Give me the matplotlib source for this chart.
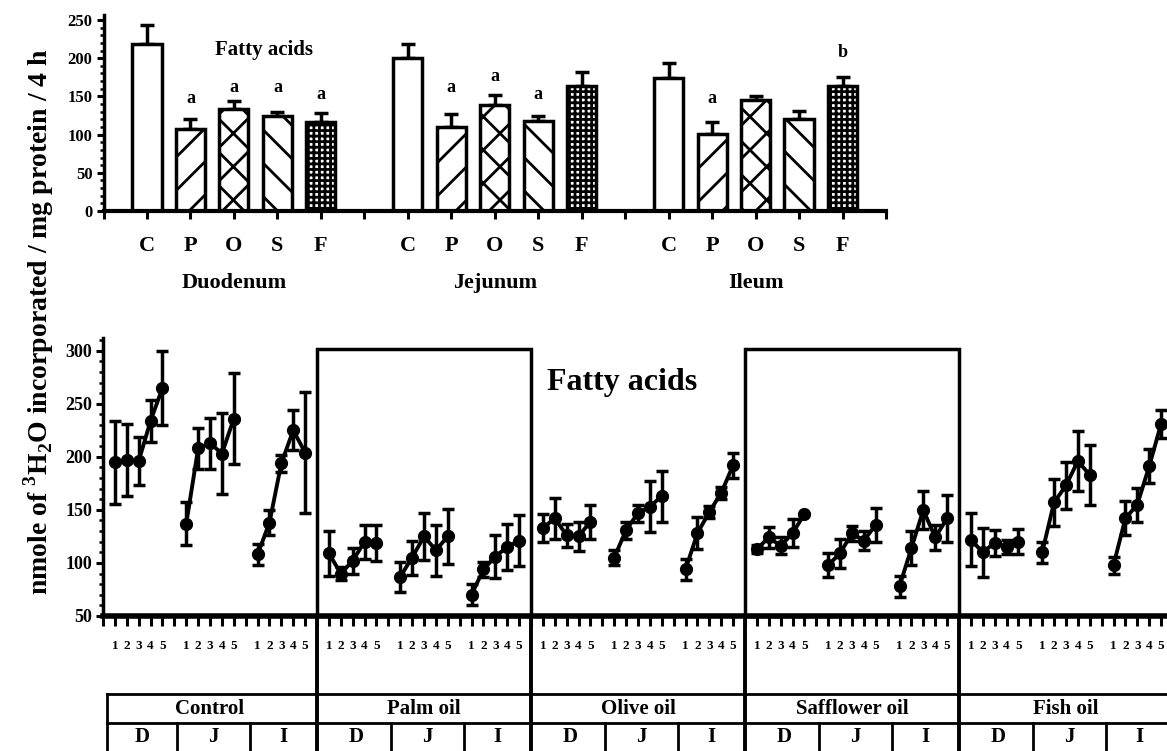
import numpy as np
import matplotlib
matplotlib.use("Agg")
import matplotlib.pyplot as plt
from matplotlib.patches import Rectangle
from matplotlib.ticker import MultipleLocator
import matplotlib.transforms as mtransforms

plt.rcParams['font.family'] = 'Liberation Serif'
plt.rcParams['font.weight'] = 'bold'
plt.rcParams['mathtext.fontset'] = 'custom'
plt.rcParams['mathtext.rm'] = 'Liberation Serif:bold'
plt.rcParams['mathtext.bf'] = 'Liberation Serif:bold'
plt.rcParams['hatch.linewidth'] = 2.0

# ------------------------------------------------------------
# datos: panel superior (barras por segmento intestinal)
# ------------------------------------------------------------
diet_codes = ['C', 'P', 'O', 'S', 'F']
segments_top = ['Duodenum', 'Jejunum', 'Ileum']
duo_mean = [218, 107, 134, 125, 117]
duo_err = [26, 13, 10, 5, 11]
jej_mean = [200, 110, 139, 118, 163]
jej_err = [19, 17, 13, 7, 19]
ile_mean = [174, 101, 145, 121, 163]
ile_err = [20, 15, 5, 10, 13]
duo_sig = ['', 'a', 'a', 'a', 'a']
jej_sig = ['', 'a', 'a', 'a', '']
ile_sig = ['', 'a', '', '', 'b']
# altura de las letras de significancia
duo_sig_y = [0, 147, 162, 162, 152]
jej_sig_y = [0, 161, 176, 153, 0]
ile_sig_y = [0, 147, 0, 0, 207]

# ------------------------------------------------------------
# datos: panel inferior (dias 1-5 por dieta y segmento D, J, I)
# ------------------------------------------------------------
diets = ['Control', 'Palm oil', 'Olive oil', 'Safflower oil', 'Fish oil']
seg_codes = ['D', 'J', 'I']
days = [1, 2, 3, 4, 5]
control_mean = [[195, 197, 196, 234, 265], [137, 208, 213, 203, 236], [108, 138, 194, 225, 204]]
control_sem = [[39, 34, 23, 20, 35], [20, 19, 24, 38, 43], [10, 12, 8, 19, 57]]
palm_mean = [[109, 90, 102, 120, 119], [87, 105, 125, 112, 125], [70, 94, 106, 115, 121]]
palm_sem = [[21, 6, 12, 16, 17], [14, 16, 22, 24, 26], [10, 7, 20, 22, 24]]
olive_mean = [[133, 142, 126, 125, 139], [105, 131, 147, 153, 163], [94, 128, 148, 166, 192]]
olive_sem = [[13, 19, 11, 14, 16], [7, 8, 8, 24, 24], [10, 15, 6, 6, 12]]
safflower_mean = [[113, 124, 116, 128, 146], [98, 109, 128, 121, 136], [78, 114, 150, 124, 142]]
safflower_sem = [[4, 10, 8, 13, 0], [11, 14, 7, 9, 16], [10, 16, 18, 12, 22]]
fish_mean = [[122, 110, 119, 115, 120], [110, 157, 173, 196, 183], [98, 142, 155, 191, 231]]
fish_sem = [[25, 23, 12, 7, 12], [10, 22, 22, 28, 28], [8, 16, 16, 16, 13]]

all_mean = [control_mean, palm_mean, olive_mean, safflower_mean, fish_mean]
all_sem = [control_sem, palm_sem, olive_sem, safflower_sem, fish_sem]

fig = plt.figure(figsize=(11.67, 7.51), dpi=100)

# ============================================================
# panel superior
# ============================================================
ax1 = fig.add_axes([0.0887, 0.7190, 0.6705, 0.2605])
hatches = [None, '/', 'x', '\\', '+++']
tops = [(duo_mean, duo_err, duo_sig, duo_sig_y),
        (jej_mean, jej_err, jej_sig, jej_sig_y),
        (ile_mean, ile_err, ile_sig, ile_sig_y)]
bw = 0.67
for g, (mean, err, sig, sig_y) in enumerate(tops):
    xs = np.arange(len(mean)) + 1 + 6 * g
    ax1.bar(xs, mean, bw, facecolor='white', edgecolor='black',
            hatch=hatches, linewidth=2.5, zorder=2)
    ax1.errorbar(xs, mean, yerr=[np.zeros(len(err)), err], fmt='none',
                 ecolor='black', elinewidth=2.5, capsize=5, capthick=2.5, zorder=1)
    for k in range(len(mean)):
        if sig[k]:
            ax1.text(xs[k], sig_y[k], sig[k], ha='center', va='center', fontsize=13)
    ax1.text(3 + 6 * g, -0.368, segments_top[g],
             transform=mtransforms.blended_transform_factory(ax1.transData, ax1.transAxes),
             ha='center', va='center', fontsize=16)

ax1.text(3.69, 211, 'Fatty acids', ha='center', va='center', fontsize=15)
ax1.set_xlim(0, 18)
ax1.set_ylim(0, 256)
ticks_top = np.arange(0, 19)
labels_top = ['' if (t % 6 == 0) else diet_codes[t % 6 - 1] for t in ticks_top]
ax1.set_xticks(ticks_top)
ax1.set_xticklabels(labels_top, fontsize=16)
ax1.set_yticks(np.arange(0, 251, 50))
ax1.yaxis.set_minor_locator(MultipleLocator(10))
ax1.tick_params(axis='x', direction='out', length=6, width=2.2, pad=12)
ax1.tick_params(axis='y', which='major', direction='out', length=5, width=2.2, labelsize=12, pad=3)
ax1.tick_params(axis='y', which='minor', direction='out', length=3, width=1.8)
ax1.spines['top'].set_visible(False)
ax1.spines['right'].set_visible(False)
ax1.spines['left'].set_linewidth(2.5)
ax1.spines['bottom'].set_linewidth(3)

# ============================================================
# panel inferior
# ============================================================
ax2 = fig.add_axes([0.0883, 0.1798, 0.9117, 0.3701])
for g in range(len(diets)):
    for s in range(len(seg_codes)):
        xs = 18 * g + 6 * s + np.array(days)
        ax2.errorbar(xs, all_mean[g][s], yerr=all_sem[g][s], fmt='-o', color='black',
                     lw=2.8, ms=8.5, elinewidth=2.5, capsize=4, capthick=2.5, zorder=3)

ax2.set_xlim(0, 89.5)
ax2.set_ylim(50, 312)
ticks_bot = np.arange(0, 90)
ax2.set_xticks(ticks_bot)
ax2.set_xticklabels(['' if t % 6 == 0 else str(t % 6) for t in ticks_bot], fontsize=9.5)
ax2.set_yticks(np.arange(50, 301, 50))
ax2.yaxis.set_minor_locator(MultipleLocator(10))
ax2.tick_params(axis='x', direction='out', length=7, width=2.2, pad=10)
ax2.tick_params(axis='y', which='major', direction='out', length=5, width=2.2, labelsize=13, pad=3)
ax2.tick_params(axis='y', which='minor', direction='out', length=3, width=1.8)
ax2.spines['top'].set_visible(False)
ax2.spines['right'].set_visible(False)
ax2.spines['left'].set_linewidth(2.5)
ax2.spines['bottom'].set_linewidth(4)

# recuadros para aceite de palma y de cartamo
for g in [1, 3]:
    ax2.add_patch(Rectangle((18 * g, 50), 18, 252, fill=False, edgecolor='black',
                            linewidth=2.5, clip_on=False, zorder=2))

ax2.text(43.7, 270, 'Fatty acids', ha='center', va='center', fontsize=23)

# tabla debajo del eje
trans = mtransforms.blended_transform_factory(ax2.transData, ax2.transAxes)
y_top, y_mid, y_bot = -0.2806, -0.386, -0.50
for g in range(1, 6):
    ax2.plot([18 * g, 18 * g], [0, y_bot], color='black', lw=2.8, transform=trans, clip_on=False)
ax2.plot([0.3, 0.3], [y_top, y_bot], color='black', lw=2, transform=trans, clip_on=False)
for yy in [y_top, y_mid]:
    ax2.plot([0.3, 90], [yy, yy], color='black', lw=2, transform=trans, clip_on=False)
for g in range(len(diets)):
    for b in [6.2, 12.4]:
        ax2.plot([18 * g + b, 18 * g + b], [y_mid, y_bot], color='black', lw=2,
                 transform=trans, clip_on=False)
    ax2.text(18 * g + 9, (y_top + y_mid) / 2, diets[g], transform=trans,
             ha='center', va='center', fontsize=15)
    for s, c in enumerate([3.3, 9.3, 15.2]):
        ax2.text(18 * g + c, -0.435, seg_codes[s], transform=trans,
                 ha='center', va='center', fontsize=15)

fig.text(0.033, 0.571, r'nmole of $^{\mathbf{3}}$H$_{\mathbf{2}}$O incorporated / mg protein / 4 h',
         rotation=90, ha='center', va='center', fontsize=20)

fig.savefig('out.png', dpi=100)
